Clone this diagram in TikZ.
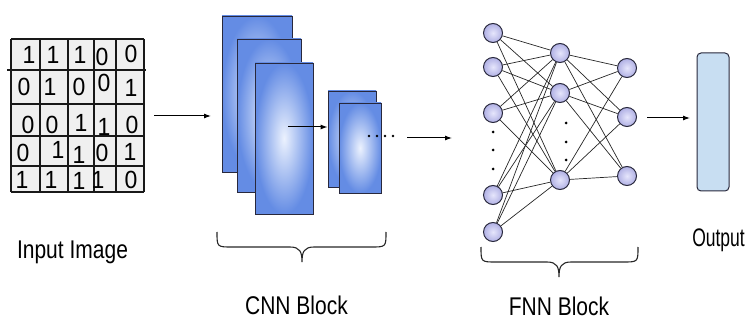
\documentclass[tikz,border=0pt]{standalone}
\usepackage{fontspec}
\usepackage{graphicx}
\setmainfont{Liberation Sans}
\usetikzlibrary{arrows.meta}
\definecolor{cnnout}{RGB}{100,140,228}
\definecolor{cnnin}{RGB}{236,242,254}
\definecolor{neuin}{RGB}{230,230,252}
\definecolor{neuout}{RGB}{176,176,228}
\definecolor{outfill}{RGB}{200,222,242}
\definecolor{edgec}{RGB}{40,40,60}
\definecolor{cellfill}{RGB}{240,240,240}
\begin{document}
\begin{tikzpicture}[x=1pt,y=-1pt,
 fmap/.style={draw=edgec,line width=0.9pt,shading=radial,inner color=cnnin,outer color=cnnout,inner sep=0pt},
 neuron/.style={circle,draw=edgec,line width=1pt,minimum size=19pt,inner sep=0pt,shading=radial,inner color=neuin,outer color=neuout},
 link/.style={line width=0.7pt,black!85},
 arr/.style={line width=1pt,-{Latex[length=7pt,width=5pt]}},
 dig/.style={font=\fontsize{23}{23}\selectfont,inner sep=0pt},
 lbl/.style={font=\fontsize{21}{21}\selectfont,inner sep=0pt},
 bracec/.style={line width=1.1pt,black!85},
 dotn/.style={circle,fill=black,inner sep=0pt,minimum size=3pt},
 gridl/.style={line width=1.1pt,black!90}
]
\useasboundingbox (0,0) rectangle (746,320);
% ---------- input grid ----------
\fill[cellfill] (11,39) rectangle (144,192);
\foreach \yy in {39,104,136,166,192} \draw[gridl] (11,\yy) -- (144,\yy);
\draw[gridl] (7,70) -- (146,70);
\foreach \xx in {11,40,68,94,116,144} \draw[gridl] (\xx,39) -- (\xx,192);
\newcommand{\dg}[3]{\node[dig] at (#1,#2) {\scalebox{1}[1.08]{#3}};}
% row 1
\dg{29}{55}{1}\dg{53}{55}{1}\dg{80}{55}{1}\dg{102}{57}{0}\dg{131}{54}{0}
% row 2
\dg{24}{87}{0}\dg{50}{87}{1}\dg{79}{87}{0}\dg{104}{83}{0}\dg{131}{88}{1}
% row 3
\dg{28}{125}{0}\dg{52}{125}{0}\dg{81}{123}{1}\dg{104}{127}{1}\dg{132}{125}{0}
% row 4
\dg{23}{153}{0}\dg{58}{150}{1}\dg{79}{155}{1}\dg{102}{153}{0}\dg{130}{152}{1}
% row 5
\dg{22}{180}{1}\dg{51}{180}{1}\dg{79}{181}{1}\dg{98}{180}{1}\dg{131}{180}{0}
\node[lbl] (inlbl) at (72.5,252) {\scalebox{1}[1.22]{Input Image}};
% ---------- arrow 1 ----------
\coordinate (a1s) at (154,116);
\coordinate (a1e) at (211,116);
\draw[arr] (a1s) -- (a1e);
% ---------- CNN block ----------
\node[fmap,minimum width=70pt,minimum height=156pt] (r1) at (257,94) {};
\node[fmap,minimum width=64pt,minimum height=153pt] (r2) at (269,115.5) {};
\node[fmap,minimum width=58pt,minimum height=151pt] (r3) at (284,138.5) {};
\node[fmap,minimum width=48pt,minimum height=96pt] (s1) at (352,139) {};
\node[fmap,minimum width=42pt,minimum height=90pt] (s2) at (360,148) {};
\coordinate (a2s) at (288,127);
\draw[arr] (a2s) -- (s1.west |- a2s);
\foreach \xx [count=\i] in {369,377,385,393} \node[dotn,minimum size=2.8pt] (cd\i) at (\xx,136) {};
% brace CNN
\draw[bracec] (217,232) .. controls (217,247) and (217,247) .. (232,247) -- (290,247)
  .. controls (300,247) and (302,252) .. (302,262)
  .. controls (302,252) and (304,247) .. (314,247) -- (371,247)
  .. controls (386,247) and (386,247) .. (386,232);
\node[lbl] (cnnlbl) at (296.5,305.5) {\scalebox{1}[1.22]{CNN Block}};
% ---------- arrow 3 ----------
\coordinate (a3s) at (407,138);
\coordinate (a3e) at (452,138);
\draw[arr] (a3s) -- (a3e);
% ---------- FNN block ----------
\foreach \yy [count=\i] in {33,67,113,195,232} \node[neuron] (i\i) at (493,\yy) {};
\foreach \yy [count=\i] in {53,93,180} \node[neuron] (h\i) at (560,\yy) {};
\foreach \yy [count=\i] in {68,117,176} \node[neuron] (o\i) at (627,\yy) {};
\foreach \i in {1,...,5} \foreach \j in {1,2,3} \draw[link] (i\i) -- (h\j);
\foreach \i in {1,2,3} \foreach \j in {1,2,3} \draw[link] (h\i) -- (o\j);
\foreach \yy [count=\i] in {132,150,169} \node[dotn] (ld\i) at (493,\yy) {};
\foreach \yy [count=\i] in {123,142,160} \node[dotn] (hd\i) at (566,\yy) {};
% brace FNN
\draw[bracec] (481,247) .. controls (481,262) and (481,262) .. (496,262) -- (547,262)
  .. controls (557,262) and (559,267) .. (559,277)
  .. controls (559,267) and (561,262) .. (571,262) -- (623,262)
  .. controls (638,262) and (638,262) .. (638,247);
\node[lbl] (fnnlbl) at (559,306.5) {\scalebox{1}[1.22]{FNN Block}};
% ---------- output ----------
\coordinate (a4s) at (647,118);
\coordinate (a4e) at (690,118);
\draw[arr] (a4s) -- (a4e);
\node[draw=edgec,line width=1pt,fill=outfill,rounded corners=4pt,minimum width=32pt,minimum height=138pt,inner sep=0pt] (out) at (713,122) {};
\node[font=\fontsize{17.5}{17.5}\selectfont,inner sep=0pt,anchor=east] (outlbl) at (745,240) {\scalebox{1}[1.45]{Output}};
\end{tikzpicture}
\end{document}
